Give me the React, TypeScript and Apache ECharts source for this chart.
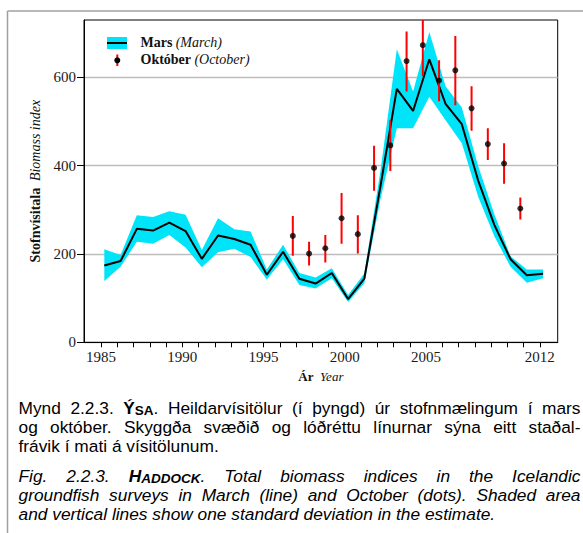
import React, { useEffect, useRef } from "react";
import * as echarts from "echarts";

// ---- Data ----
const marchYears = [1985, 1986, 1987, 1988, 1989, 1990, 1991, 1992, 1993, 1994, 1995, 1996, 1997, 1998, 1999, 2000, 2001, 2002, 2003, 2004, 2005, 2006, 2007, 2008, 2009, 2010, 2011, 2012];
const marchIndex = [174, 184, 257, 253, 271, 252, 189, 242, 234, 221, 153, 205, 144, 133, 157, 98, 144, 355, 574, 524, 641, 540, 494, 367, 266, 188, 152, 155];
const marchLow = [139, 171, 228, 223, 243, 215, 170, 204, 212, 193, 142, 188, 130, 122, 145, 91, 134, 325, 485, 485, 556, 503, 451, 330, 240, 171, 135, 145];
const marchHigh = [211, 198, 288, 284, 297, 289, 209, 281, 256, 251, 165, 221, 157, 147, 168, 107, 156, 390, 664, 568, 703, 580, 532, 400, 290, 195, 165, 165];

const octYears = [1996, 1997, 1998, 1999, 2000, 2001, 2002, 2003, 2004, 2005, 2006, 2007, 2008, 2009, 2010];
const octIndex = [241, 201, 213, 281, 245, 395, 446, 637, 673, 593, 616, 530, 449, 405, 303];
const octLow = [196, 174, 181, 223, 201, 343, 388, 568, 603, 546, 537, 479, 413, 359, 278];
const octHigh = [286, 228, 243, 338, 288, 445, 503, 704, 745, 639, 694, 580, 485, 451, 328];

const xLabelYears = [1985, 1990, 1995, 2000, 2005, 2012];
const yTickValues = [0, 200, 400, 600];

// survey timing within the year (March ~ .2, October ~ .8)
const MARCH_OFFSET = 0.2;
const OCT_OFFSET = 0.8;

// ---- Caption ----
type Run = [string, string];
type Word = string | Run[];
const captionLines: { words: Word[]; justify: boolean; italic: boolean; base: number }[] = [
  { words: ["Mynd", "2.2.3.", [["Ý", "b"], ["SA", "bs"], [".", ""]], "Heildarvísitölur", "(í", "þyngd)", "úr", "stofnmælingum", "í", "mars"], justify: true, italic: false, base: 417 },
  { words: "og október. Skyggða svæðið og lóðréttu línurnar sýna eitt staðal-".split(" "), justify: true, italic: false, base: 436 },
  { words: "frávik í mati á vísitölunum.".split(" "), justify: false, italic: false, base: 455 },
  { words: ["Fig.", "2.2.3.", [["H", "b"], ["ADDOCK", "bs"], [".", ""]], "Total", "biomass", "indices", "in", "the", "Icelandic"], justify: true, italic: true, base: 485.5 },
  { words: "groundfish surveys in March (line) and October (dots). Shaded area".split(" "), justify: true, italic: true, base: 504.5 },
  { words: "and vertical lines show one standard deviation in the estimate.".split(" "), justify: false, italic: true, base: 523.5 },
];

const CAP_FONT = "Liberation Sans";
const CAP_SIZE = 16.5;
const CAP_SX = 1.05;
const CAP_LEFT = 18.5;
const CAP_RIGHT = 580.5;

function buildCaption(): any[] {
  const canvas = document.createElement("canvas");
  const ctx = canvas.getContext("2d")!;
  const els: any[] = [];
  const fontStr = (size: number, bold: boolean, italic: boolean) =>
    `${italic ? "italic " : ""}${bold ? "bold " : ""}${size}px "${CAP_FONT}"`;
  for (const line of captionLines) {
    const words: Run[][] = line.words.map((w) => (typeof w === "string" ? [[w, ""] as Run] : w));
    const runInfo = words.map((runs) =>
      runs.map(([t, f]) => {
        const bold = f.includes("b");
        const size = f.includes("s") ? CAP_SIZE * 0.78 : CAP_SIZE;
        ctx.font = fontStr(size, bold, line.italic);
        return { t, bold, size, w: ctx.measureText(t).width * CAP_SX };
      })
    );
    const widths = runInfo.map((r) => r.reduce((s, x) => s + x.w, 0));
    const total = widths.reduce((s, x) => s + x, 0);
    ctx.font = fontStr(CAP_SIZE, false, line.italic);
    const space = ctx.measureText(" ").width * CAP_SX;
    const gap = line.justify ? (CAP_RIGHT - CAP_LEFT - total) / (words.length - 1) : space;
    let x = CAP_LEFT;
    runInfo.forEach((runs, i) => {
      let rx = x;
      runs.forEach((r) => {
        els.push({
          type: "text",
          x: rx,
          y: line.base,
          scaleX: CAP_SX,
          silent: true,
          style: {
            text: r.t,
            fontFamily: CAP_FONT,
            fontSize: r.size,
            fontWeight: r.bold ? "bold" : "normal",
            fontStyle: line.italic ? "italic" : "normal",
            fill: "#000",
            align: "left",
            verticalAlign: "bottom",
          },
        });
        rx += r.w;
      });
      x += widths[i] + gap;
    });
  }
  return els;
}

const SERIF = "Liberation Serif";

export default function App() {
  const ref = useRef<HTMLDivElement>(null);
  useEffect(() => {
    if (!ref.current) return;
    const chart = echarts.init(ref.current, undefined, { renderer: "svg" });

    const bandData = marchYears.map((y, i) => [y + MARCH_OFFSET, marchLow[i], marchHigh[i]]);
    const tickYears: number[] = [];
    for (let y = xLabelYears[0]; y <= xLabelYears[xLabelYears.length - 1]; y++) tickYears.push(y);

    const option: any = {
      animation: false,
      backgroundColor: "#fff",
      grid: { left: 84, top: 20, width: 473.7, height: 322.3, show: true, borderColor: "#000", borderWidth: 1 },
      xAxis: {
        type: "value",
        min: 1983.95,
        max: 2013.1,
        axisLine: { show: true, onZero: false, lineStyle: { color: "#000", width: 1 } },
        axisTick: { show: true, customValues: tickYears, length: 5, lineStyle: { color: "#000" } },
        axisLabel: { customValues: xLabelYears, fontFamily: SERIF, fontSize: 15, color: "#1a1a1a", margin: 7, formatter: (v: number) => String(v) },
        splitLine: { show: false },
        name: "{b|Ár}  {i|Year}",
        nameLocation: "middle",
        nameGap: 28,
        nameTextStyle: {
          rich: {
            b: { fontFamily: SERIF, fontWeight: "bold", fontSize: 13, color: "#111" },
            i: { fontFamily: SERIF, fontStyle: "italic", fontSize: 13, color: "#111" },
          },
        },
      },
      yAxis: {
        type: "value",
        min: 0,
        max: 730,
        interval: 200,
        axisLine: { show: true, lineStyle: { color: "#000", width: 1 } },
        axisTick: { show: true, customValues: yTickValues, length: 7, lineStyle: { color: "#000" } },
        axisLabel: { customValues: yTickValues, fontFamily: SERIF, fontSize: 15, color: "#1a1a1a", margin: 8, formatter: (v: number) => String(v) },
        splitLine: { show: true, lineStyle: { color: "#bdbdbd", width: 1.3 } },
        name: "{b|Stofnvísitala}  {i|Biomass index}",
        nameLocation: "middle",
        nameRotate: 90,
        nameGap: 27,
        nameTextStyle: {
          rich: {
            b: { fontFamily: SERIF, fontWeight: "bold", fontSize: 14, color: "#111" },
            i: { fontFamily: SERIF, fontStyle: "italic", fontSize: 14, color: "#111" },
          },
        },
      },
      series: [
        {
          type: "custom",
          name: "Mars band",
          coordinateSystem: "cartesian2d",
          clip: true,
          data: bandData,
          encode: { x: 0, y: [1, 2] },
          z: 1,
          renderItem: (params: any, api: any) => {
            if (params.dataIndex !== 0) return null;
            const upper = bandData.map((d) => api.coord([d[0], d[2]]));
            const lower = bandData.map((d) => api.coord([d[0], d[1]])).reverse();
            return { type: "polygon", shape: { points: upper.concat(lower) }, style: { fill: "#00E4FA" } };
          },
        },
        {
          type: "line",
          name: "Mars",
          data: marchYears.map((y, i) => [y + MARCH_OFFSET, marchIndex[i]]),
          showSymbol: false,
          symbol: "none",
          lineStyle: { color: "#000", width: 2 },
          z: 3,
        },
        {
          type: "custom",
          name: "Október sd",
          coordinateSystem: "cartesian2d",
          clip: true,
          data: octYears.map((y, i) => [y + OCT_OFFSET, octLow[i], octHigh[i]]),
          encode: { x: 0, y: [1, 2] },
          z: 4,
          renderItem: (params: any, api: any) => {
            const p1 = api.coord([api.value(0), api.value(1)]);
            const p2 = api.coord([api.value(0), api.value(2)]);
            return { type: "line", shape: { x1: p1[0], y1: p1[1], x2: p2[0], y2: p2[1] }, style: { stroke: "#ff0000", lineWidth: 2 } };
          },
        },
        {
          type: "scatter",
          name: "Október",
          data: octYears.map((y, i) => [y + OCT_OFFSET, octIndex[i]]),
          symbol: "circle",
          symbolSize: 6,
          itemStyle: { color: "#000" },
          z: 5,
        },
      ],
      graphic: [
        // outer frame of the figure
        { type: "line", silent: true, shape: { x1: 7.5, y1: 11, x2: 583, y2: 11 }, style: { stroke: "#a0a0a0", lineWidth: 1.5 } },
        { type: "line", silent: true, shape: { x1: 7.5, y1: 11, x2: 7.5, y2: 533 }, style: { stroke: "#a0a0a0", lineWidth: 1.5 } },
        // legend
        { type: "rect", silent: true, shape: { x: 107, y: 37, width: 20, height: 12 }, style: { fill: "#00E4FA" } },
        { type: "line", silent: true, shape: { x1: 107, y1: 43, x2: 127, y2: 43 }, style: { stroke: "#000", lineWidth: 2 } },
        { type: "line", silent: true, shape: { x1: 117.3, y1: 54.5, x2: 117.3, y2: 66 }, style: { stroke: "#ff0000", lineWidth: 2 } },
        { type: "circle", silent: true, shape: { cx: 117.3, cy: 60.3, r: 3 }, style: { fill: "#000" } },
        {
          type: "text",
          x: 140.5,
          y: 42.5,
          silent: true,
          style: {
            text: "{b|Mars} {i|(March)}",
            verticalAlign: "middle",
            rich: {
              b: { fontFamily: SERIF, fontWeight: "bold", fontSize: 14, fill: "#111" },
              i: { fontFamily: SERIF, fontStyle: "italic", fontSize: 14, fill: "#111" },
            },
          },
        },
        {
          type: "text",
          x: 140.5,
          y: 59.5,
          silent: true,
          style: {
            text: "{b|Október} {i|(October)}",
            verticalAlign: "middle",
            rich: {
              b: { fontFamily: SERIF, fontWeight: "bold", fontSize: 14, fill: "#111" },
              i: { fontFamily: SERIF, fontStyle: "italic", fontSize: 14, fill: "#111" },
            },
          },
        },
        ...buildCaption(),
      ],
    };
    chart.setOption(option);
    return () => chart.dispose();
  }, []);
  return <div ref={ref} style={{ position: "absolute", left: 0, top: 0, width: 583, height: 533 }} />;
}
